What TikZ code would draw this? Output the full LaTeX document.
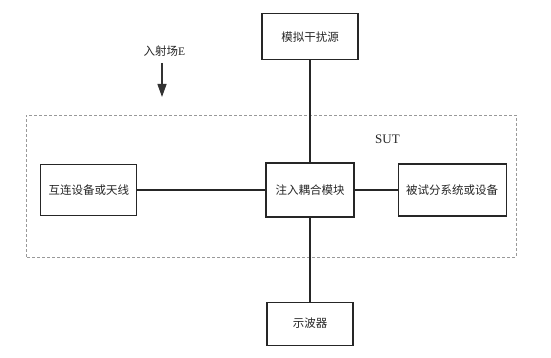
\documentclass[tikz,border=0pt]{standalone}
\usepackage{fontspec}
\setmainfont{Liberation Serif}
\newfontfamily\cjk{Noto Sans CJK SC}
\usetikzlibrary{arrows.meta, positioning}
\tikzset{
    setup/.style={x=1pt, y=1pt, line width=1pt, font=\cjk\fontsize{11.5}{13}\selectfont, text=black!85},
    unit/.style={draw=black!85, line width=1.1pt, inner sep=0pt, align=center},
    region/.style={draw=gray!80, densely dashed, line width=0.6pt},
    field/.style={-{Triangle[width=9pt,length=13pt]}, line width=1.3pt, draw=black!80},
    link/.style={draw=black!85, line width=1.1pt},
}

\begin{document}
\begin{tikzpicture}[setup]
    \useasboundingbox (0,0) rectangle (551,358);
    \node[unit, minimum width=88pt, minimum height=54pt]                      (inj) at (310,168) {注入耦合模块};
    \node[unit, minimum width=96pt, minimum height=46pt, above=102pt of inj]  (src) {模拟干扰源};
    \node[unit, minimum width=86pt, minimum height=43pt, below=84pt of inj]   (osc) {示波器};
    \node[unit, minimum width=96pt, minimum height=51pt, left=128pt of inj]   (ant) {互连设备或天线};
    \node[unit, minimum width=108pt, minimum height=52pt, right=43pt of inj]  (eut) {被试分系统或设备};

    % system under test
    \draw[region] (26,101) rectangle (516,243);
    \node (sut) at (387.5,219) {\rmfamily\fontsize{13}{15}\selectfont SUT};

    % incident field
    \coordinate (ftop) at (162,295);
    \coordinate (fend) at (162,261);
    \node (flabel) at (164.5,307) {入射场{\rmfamily E}};
    \draw[field] (ftop) -- (fend);

    \draw[link] (src) -- (inj);
    \draw[link] (inj) -- (osc);
    \draw[link] (ant) -- (inj);
    \draw[link] (inj) -- (eut);
\end{tikzpicture}
\end{document}
